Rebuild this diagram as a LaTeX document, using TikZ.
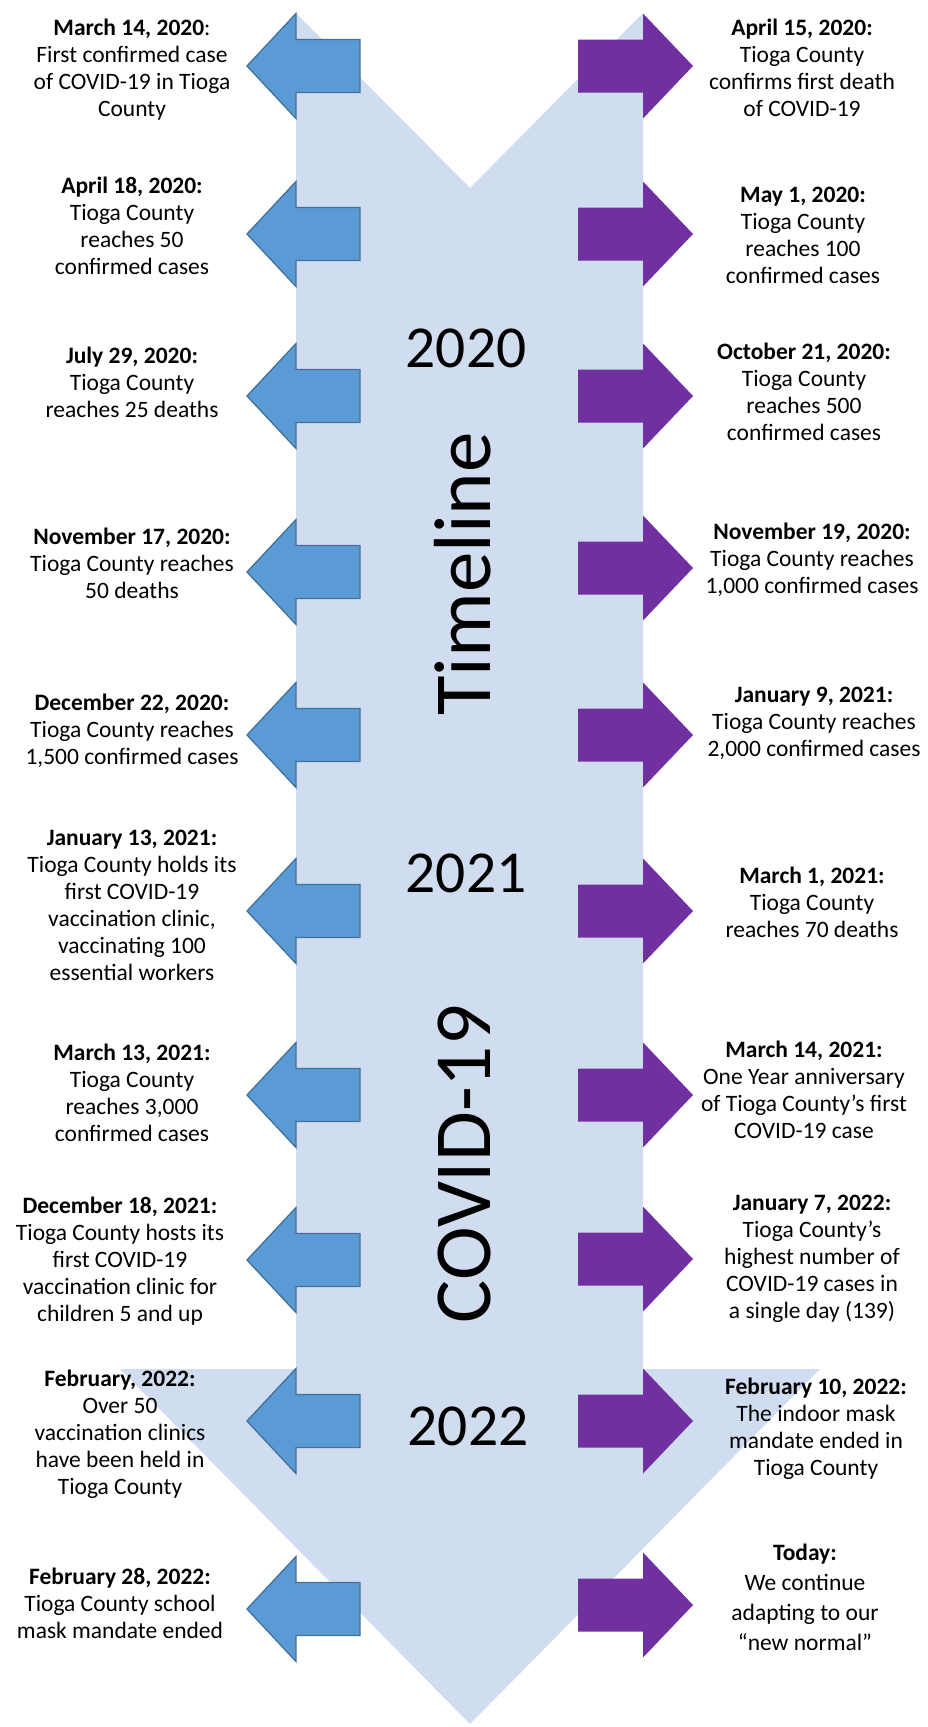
\documentclass[tikz,border=0pt]{standalone}
\usepackage{fontspec}
\setmainfont{Carlito}
\definecolor{bgblue}{HTML}{D0DCEF}
\definecolor{bluefill}{HTML}{5B9BD5}
\definecolor{blueline}{HTML}{41719C}
\definecolor{purp}{HTML}{7030A0}
\begin{document}
\begin{tikzpicture}[x=1pt,y=-1pt,
  evt/.style={align=center,font=\fontsize{23.5}{27}\selectfont,inner sep=0pt,
    execute at begin node=\strut,execute at end node=\strut},
  evtwide/.style={evt,font=\fontsize{23.5}{30}\selectfont},
  bigyear/.style={font=\fontsize{59.5}{60}\selectfont,anchor=base,inner sep=0pt},
  bigword/.style={font=\fontsize{81}{82}\selectfont,anchor=base,rotate=90,inner sep=0pt},
  bluearr/.pic={\filldraw[fill=bluefill,draw=blueline,line width=1.3pt,line join=miter]
    (247,0) -- (296,-52.5) -- (296,-26.5) -- (360,-26.5) -- (360,26.5) -- (296,26.5) -- (296,52.5) -- cycle;},
  purparr/.pic={\fill[purp]
    (693,0) -- (643,-52.5) -- (643,-26.5) -- (578,-26.5) -- (578,26.5) -- (643,26.5) -- (643,52.5) -- cycle;}
]
\useasboundingbox (0,0) rectangle (927,1727);
% big background arrow
\fill[bgblue] (296,13) -- (470,188) -- (643,13) -- (643,1369) -- (820,1369)
  -- (470,1724) -- (120,1369) -- (296,1369) -- cycle;

% big texts
\node[bigyear] (y2020) at (466,367) {2020};
\node[bigyear] (y2021) at (466,892) {2021};
\node[bigyear] (y2022) at (468,1445) {2022};
\node[bigword] (wtimeline) at (490,574) {Timeline};
\node[bigword] (wcovid) at (490,1164) {COVID-19};

% arrows
\pic at (0,66) {bluearr};
\pic at (0,234) {bluearr};
\pic at (0,396) {bluearr};
\pic at (0,572) {bluearr};
\pic at (0,735) {bluearr};
\pic at (0,911) {bluearr};
\pic at (0,1095) {bluearr};
\pic at (0,1260) {bluearr};
\pic at (0,1421) {bluearr};
\pic at (0,1609) {bluearr};

\pic at (0,66) {purparr};
\pic at (0,234) {purparr};
\pic at (0,396) {purparr};
\pic at (0,568) {purparr};
\pic at (0,735) {purparr};
\pic at (0,911) {purparr};
\pic at (0,1095) {purparr};
\pic at (0,1259) {purparr};
\pic at (0,1421) {purparr};
\pic at (0,1605) {purparr};

% left texts
\node[evt] (l1) at (132,72) {\textbf{March 14, 2020}:\\First confirmed case\\of COVID-19 in Tioga\\County};
\node[evt] (l2) at (132,229.5) {\textbf{April 18, 2020:}\\Tioga County\\reaches 50\\confirmed cases};
\node[evt] (l3) at (132,386) {\textbf{July 29, 2020:}\\Tioga County\\reaches 25 deaths};
\node[evt] (l4) at (132,567.5) {\textbf{November 17, 2020:}\\Tioga County reaches\\50 deaths};
\node[evt] (l5) at (132,733.5) {\textbf{December 22, 2020:}\\Tioga County reaches\\1,500 confirmed cases};
\node[evt] (l6) at (132,909) {\textbf{January 13, 2021:}\\Tioga County holds its\\first COVID-19\\vaccination clinic,\\vaccinating 100\\essential workers};
\node[evt] (l7) at (132,1097) {\textbf{March 13, 2021:}\\Tioga County\\reaches 3,000\\confirmed cases};
\node[evt] (l8) at (120,1263) {\textbf{December 18, 2021:}\\Tioga County hosts its\\first COVID-19\\vaccination clinic for\\children 5 and up};
\node[evt] (l9) at (120,1436.5) {\textbf{February, 2022:}\\Over 50\\vaccination clinics\\have been held in\\Tioga County};
\node[evt] (l10) at (120,1607) {\textbf{February 28, 2022:}\\Tioga County school\\mask mandate ended};

% right texts
\node[evt] (r1) at (802,71.5) {\textbf{April 15, 2020:}\\Tioga County\\confirms first death\\of COVID-19};
\node[evt] (r2) at (803,239.5) {\textbf{May 1, 2020:}\\Tioga County\\reaches 100\\confirmed cases};
\node[evt] (r3) at (804,396) {\textbf{October 21, 2020:}\\Tioga County\\reaches 500\\confirmed cases};
\node[evt] (r4) at (812,562) {\textbf{November 19, 2020:}\\Tioga County reaches\\1,000 confirmed cases};
\node[evt] (r5) at (814,726) {\textbf{January 9, 2021:}\\Tioga County reaches\\2,000 confirmed cases};
\node[evt] (r6) at (812,906.5) {\textbf{March 1, 2021:}\\Tioga County\\reaches 70 deaths};
\node[evt] (r7) at (804,1094) {\textbf{March 14, 2021:}\\One Year anniversary\\of Tioga County’s first\\COVID-19 case};
\node[evt] (r8) at (812,1260.5) {\textbf{January 7, 2022:}\\Tioga County’s\\highest number of\\COVID-19 cases in\\a single day (139)};
\node[evt] (r9) at (816,1431) {\textbf{February 10, 2022:}\\The indoor mask\\mandate ended in\\Tioga County};
\node[evtwide] (r10) at (805,1602) {\textbf{Today:}\\We continue\\adapting to our\\“new normal”};
\end{tikzpicture}
\end{document}
